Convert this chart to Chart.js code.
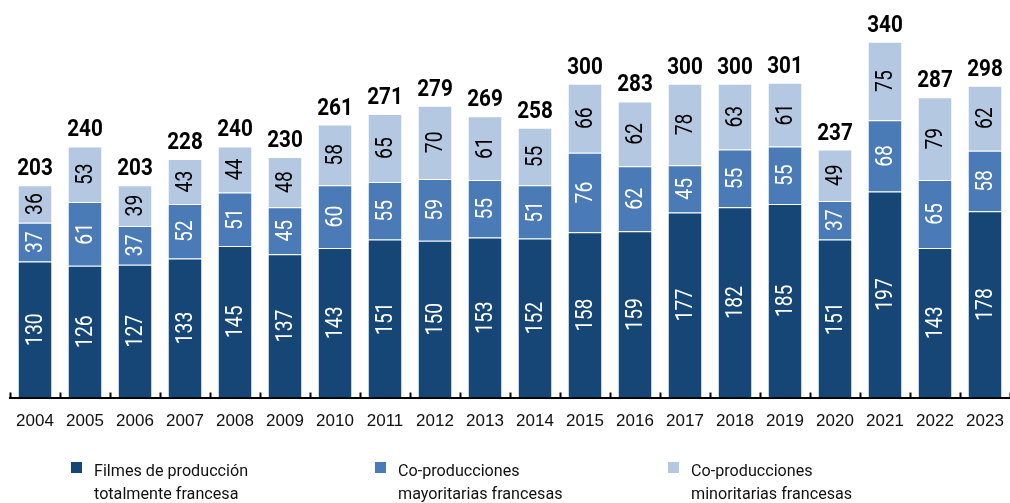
<!DOCTYPE html>
<html>
<head>
<meta charset="utf-8">
<script src="https://cdn.jsdelivr.net/npm/chart.js@4.4.1/dist/chart.umd.min.js"></script>
<style>
  html, body { margin: 0; padding: 0; background: #fff; }
  #wrap { position: relative; width: 1010px; height: 503px; overflow: hidden; }
  canvas { position: absolute; left: 0; top: 0; }
  .leg { position: absolute; top: 459px; font-family: Roboto, sans-serif; font-size: 17px; line-height: 23px; color: #111; }
  .leg span { display: inline-block; transform: scaleX(0.95); transform-origin: left top; white-space: nowrap; }
  .leg i { position: absolute; left: -23px; top: 3px; width: 11px; height: 11px; }
</style>
</head>
<body>
<div id="wrap">
  <canvas id="chart" width="1010" height="503"></canvas>
  <div class="leg" style="left:94px"><i style="background:#154675"></i><span>Filmes de producción<br>totalmente francesa</span></div>
  <div class="leg" style="left:398px"><i style="background:#4a7bb6"></i><span>Co-producciones<br>mayoritarias francesas</span></div>
  <div class="leg" style="left:691px"><i style="background:#b4c8e1"></i><span>Co-producciones<br>minoritarias francesas</span></div>
</div>
<script>
const years = ["2004","2005","2006","2007","2008","2009","2010","2011","2012","2013",
               "2014","2015","2016","2017","2018","2019","2020","2021","2022","2023"];
const totalmente = [130,126,127,133,145,137,143,151,150,153,152,158,159,177,182,185,151,197,143,178];
const mayoritarias = [37,61,37,52,51,45,60,55,59,55,51,76,62,45,55,55,37,68,65,58];
const minoritarias = [36,53,39,43,44,48,58,65,70,61,55,66,62,78,63,61,49,75,79,62];
const totals = [203,240,203,228,240,230,261,271,279,269,258,300,283,300,300,301,237,340,287,298];

const labelColors = ["#ffffff", "#ffffff", "#000000"];

// numbers inside the segments (rotated) and totals on top
const barLabels = {
  id: "barLabels",
  afterDatasetsDraw(chart) {
    const ctx = chart.ctx;
    ctx.save();
    chart.data.datasets.forEach((ds, di) => {
      const meta = chart.getDatasetMeta(di);
      meta.data.forEach((bar, i) => {
        const yMid = (bar.y + bar.base) / 2;
        ctx.save();
        ctx.translate(bar.x, yMid);
        ctx.rotate(-Math.PI / 2);
        ctx.scale(0.84, 1);
        ctx.fillStyle = labelColors[di];
        ctx.font = '23px Roboto, sans-serif';
        ctx.textAlign = "center";
        ctx.textBaseline = "middle";
        ctx.fillText(ds.data[i], 0, 1);
        ctx.restore();
      });
    });
    const top = chart.getDatasetMeta(2);
    ctx.fillStyle = "#000";
    ctx.font = 'bold 23px Roboto, sans-serif';
    ctx.textAlign = "center";
    ctx.textBaseline = "alphabetic";
    top.data.forEach((bar, i) => {
      ctx.save();
      ctx.translate(bar.x, bar.y - 10);
      ctx.scale(0.9, 1);
      ctx.fillText(totals[i], 0, 0);
      ctx.restore();
    });
    ctx.restore();
  }
};

// short upward tick marks between categories
const axisTicks = {
  id: "axisTicks",
  afterDraw(chart) {
    const x = chart.scales.x;
    const ctx = chart.ctx;
    const step = x.getPixelForValue(1) - x.getPixelForValue(0);
    ctx.save();
    ctx.strokeStyle = "#000";
    ctx.lineWidth = 2;
    ctx.beginPath();
    for (let i = 0; i <= years.length; i++) {
      const px = Math.round(x.getPixelForValue(i) - step / 2) + 0.5;
      ctx.moveTo(px, x.top - 5);
      ctx.lineTo(px, x.top);
    }
    ctx.stroke();
    ctx.restore();
  }
};

new Chart(document.getElementById("chart"), {
  type: "bar",
  data: {
    labels: years,
    datasets: [
      { label: "Filmes de producción totalmente francesa", data: totalmente, backgroundColor: "#154675" },
      { label: "Co-producciones mayoritarias francesas", data: mayoritarias, backgroundColor: "#4a7bb6" },
      { label: "Co-producciones minoritarias francesas", data: minoritarias, backgroundColor: "#b4c8e1" }
    ]
  },
  options: {
    responsive: false,
    animation: false,
    layout: { padding: { left: 10, right: 0, top: 0, bottom: 65 } },
    datasets: {
      bar: { barPercentage: 0.66, categoryPercentage: 1, borderWidth: { top: 1 }, borderColor: "rgba(255,255,255,0.5)", borderSkipped: "bottom" }
    },
    plugins: { legend: { display: false }, tooltip: { enabled: false } },
    scales: {
      x: {
        stacked: true,
        grid: { display: false },
        border: { display: true, color: "#000", width: 2 },
        ticks: { color: "#111", padding: 6, font: { family: "Liberation Sans", size: 17 } }
      },
      y: {
        stacked: true,
        display: false,
        min: 0,
        max: 380
      }
    }
  },
  plugins: [barLabels, axisTicks]
});
</script>
</body>
</html>
